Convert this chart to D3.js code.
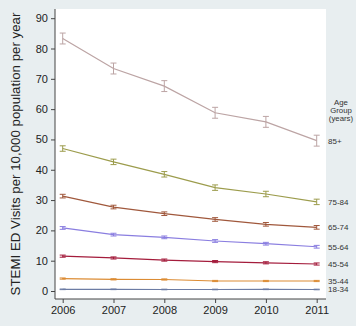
<!DOCTYPE html>
<html>
<head>
<meta charset="utf-8">
<script src="https://cdn.jsdelivr.net/npm/d3@7"></script>
<style>
  body { margin: 0; background: #e8eef0; }
  svg { display: block; font-family: "Liberation Sans", Arial, sans-serif; }
</style>
</head>
<body>
<div id="chart"></div>
<script>
// data
const years = [2006, 2007, 2008, 2009, 2010, 2011];
const groups = ['85+', '75-84', '65-74', '55-64', '45-54', '35-44', '18-34'];
const colors = ['#bca4a4', '#9c9c4c', '#a0583c', '#8a7ee0', '#a41c3c', '#dc8c34', '#6c7ca4'];
const v85 = [83.3, 73.4, 67.6, 58.8, 55.8, 49.6];
const v75 = [47.0, 42.6, 38.5, 34.1, 32.0, 29.4];
const v65 = [31.3, 27.7, 25.5, 23.6, 22.0, 21.0];
const v55 = [20.8, 18.6, 17.7, 16.5, 15.6, 14.6];
const v45 = [11.5, 10.9, 10.2, 9.7, 9.3, 8.9];
const v35 = [4.1, 3.85, 3.8, 3.3, 3.3, 3.3];
const v18 = [0.55, 0.55, 0.5, 0.5, 0.55, 0.5];
const errs = [1.8, 0.9, 0.6, 0.45, 0.35, 0.2, 0.1];
const yTicks = [0, 10, 20, 30, 40, 50, 60, 70, 80, 90];

const series = [v85, v75, v65, v55, v45, v35, v18];

const width = 356, height = 326;
const plot = {left: 55, right: 326, top: 9, bottom: 299};

const svg = d3.select('#chart').append('svg')
    .attr('width', width)
    .attr('height', height);

svg.append('rect')
    .attr('x', plot.left).attr('y', plot.top)
    .attr('width', plot.right - plot.left)
    .attr('height', plot.bottom - plot.top)
    .attr('fill', '#fff');

const x = d3.scaleLinear().domain([2006, 2011]).range([62.7, 316.7]);
const y = d3.scaleLinear().domain([0, 90]).range([291, 18.2]);

// axes
const yAxis = svg.append('g')
    .attr('transform', 'translate(' + plot.left + ',0)')
    .call(d3.axisLeft(y).tickValues(yTicks).tickSize(4).tickPadding(3));
yAxis.select('.domain').attr('d', 'M0,' + plot.top + 'V' + plot.bottom);

const xAxis = svg.append('g')
    .attr('transform', 'translate(0,' + plot.bottom + ')')
    .call(d3.axisBottom(x).tickValues(years).tickFormat(d3.format('d')).tickSize(4).tickPadding(3));
xAxis.select('.domain').attr('d', 'M' + plot.left + ',0H' + plot.right);

svg.selectAll('.domain, .tick line').attr('stroke', '#444').attr('stroke-width', 1);
svg.selectAll('.tick text').attr('font-size', 11).attr('fill', '#222');

const line = d3.line()
    .x((d, i) => x(years[i]))
    .y(d => y(d));

series.forEach(function(vals, k) {
    const gs = svg.append('g').attr('class', 'series');
    gs.append('path')
        .attr('d', line(vals))
        .attr('fill', 'none')
        .attr('stroke', colors[k])
        .attr('stroke-width', 1.2);

    const e = errs[k];
    const bars = gs.selectAll('g.err')
        .data(vals)
        .enter().append('g').attr('class', 'err');
    bars.append('line')
        .attr('x1', (d, i) => x(years[i])).attr('x2', (d, i) => x(years[i]))
        .attr('y1', d => y(d - e)).attr('y2', d => y(d + e))
        .attr('stroke', colors[k]).attr('stroke-width', 1);
    [-1, 1].forEach(function(s) {
        bars.append('line')
            .attr('x1', (d, i) => x(years[i]) - 3).attr('x2', (d, i) => x(years[i]) + 3)
            .attr('y1', d => y(d + s * e)).attr('y2', d => y(d + s * e))
            .attr('stroke', colors[k]).attr('stroke-width', 1);
    });

    gs.append('text')
        .attr('x', 328)
        .attr('y', y(vals[vals.length - 1]) + 3)
        .attr('font-size', 8)
        .attr('fill', '#333')
        .text(groups[k]);
});

// legend title
const lt = svg.append('text')
    .attr('x', 341)
    .attr('y', 105)
    .attr('text-anchor', 'middle')
    .attr('font-size', 7.8)
    .attr('fill', '#333');
['Age', 'Group', '(years)'].forEach(function(t, i) {
    lt.append('tspan').attr('x', 341).attr('dy', i ? 8 : 0).text(t);
});

// y title
svg.append('text')
    .attr('transform', 'translate(20,' + ((plot.top + plot.bottom) / 2) + ') rotate(-90)')
    .attr('text-anchor', 'middle')
    .attr('font-size', 13.3)
    .attr('fill', '#222')
    .text('STEMI ED Visits per 10,000 population per year');
</script>
</body>
</html>
